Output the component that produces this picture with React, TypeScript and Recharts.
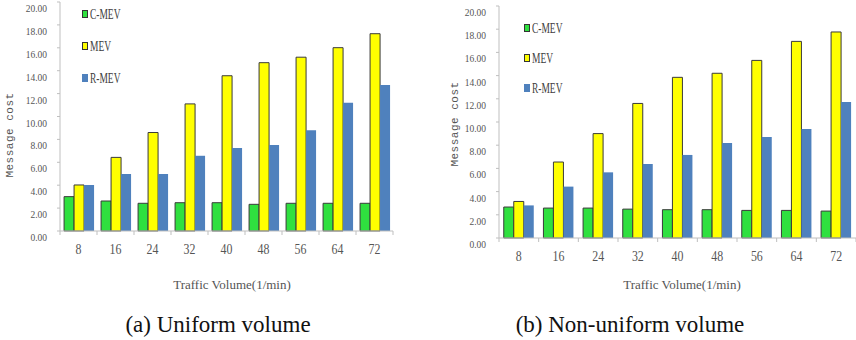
import { BarChart, Bar, XAxis, YAxis, Legend } from 'recharts';

const categories = ['8', '16', '24', '32', '40', '48', '56', '64', '72'];

const uniformCMEV = [3.0, 2.62, 2.42, 2.47, 2.47, 2.33, 2.42, 2.42, 2.42];
const uniformMEV = [4.02, 6.43, 8.6, 11.1, 13.56, 14.7, 15.18, 16.01, 17.23];
const uniformRMEV = [4.02, 4.98, 4.98, 6.57, 7.25, 7.51, 8.79, 11.2, 12.75];

const nonUniformCMEV = [2.67, 2.58, 2.58, 2.49, 2.44, 2.44, 2.38, 2.38, 2.32];
const nonUniformMEV = [3.15, 6.55, 9.0, 11.6, 13.85, 14.2, 15.31, 16.95, 17.76];
const nonUniformRMEV = [2.81, 4.43, 5.66, 6.38, 7.16, 8.19, 8.71, 9.4, 11.72];

const yTicks = [0, 2, 4, 6, 8, 10, 12, 14, 16, 18, 20];

const series = [
  { key: 'cmev', name: 'C-MEV', color: '#2fe03f', stroke: '#3a3a3a' },
  { key: 'mev', name: 'MEV', color: '#ffff00', stroke: '#3a3a3a' },
  { key: 'rmev', name: 'R-MEV', color: '#4f81bd', stroke: 'none' },
];

const buildRows = (c: number[], m: number[], r: number[]) =>
  categories.map((name, i) => ({ name, cmev: c[i], mev: m[i], rmev: r[i] }));

const uniformRows = buildRows(uniformCMEV, uniformMEV, uniformRMEV);
const nonUniformRows = buildRows(nonUniformCMEV, nonUniformMEV, nonUniformRMEV);

const AXIS = '#bfbfbf';
const TEXT = '#555555';
const SERIF = '"Liberation Serif", "Times New Roman", "DejaVu Serif", serif';
const MONO = '"Liberation Mono", "DejaVu Sans Mono", monospace';
const X_TICK_SIZE = 4;
const X_TICK_MARGIN = 4;

function XTick(props: any) {
  const { x, y, payload, index, visibleTicksCount, width } = props;
  const half = typeof payload.offset === 'number' && payload.offset > 0
    ? payload.offset
    : width / categories.length / 2;
  const axisY = y - X_TICK_SIZE - X_TICK_MARGIN;
  return (
    <g>
      <line x1={x - half} x2={x - half} y1={axisY} y2={axisY + X_TICK_SIZE} stroke={AXIS} />
      {index === visibleTicksCount - 1 && (
        <line x1={x + half} x2={x + half} y1={axisY} y2={axisY + X_TICK_SIZE} stroke={AXIS} />
      )}
      <text
        x={0}
        y={0}
        transform={`translate(${x},${y + 10}) scale(0.85,1)`}
        textAnchor="middle"
        dominantBaseline="central"
        style={{ fontFamily: SERIF, fontSize: 14 }}
        fill={TEXT}
      >
        {payload.value}
      </text>
    </g>
  );
}

function YTick(props: any) {
  const { x, y, payload } = props;
  return (
    <text
      x={x}
      y={y + 7}
      textAnchor="end"
      dominantBaseline="central"
      style={{ fontFamily: SERIF, fontSize: 9.5 }}
      fill={TEXT}
    >
      {Number(payload.value).toFixed(2)}
    </text>
  );
}

function LegendBox({ first, pitch }: { first: number; pitch: number }) {
  return (
    <div style={{ position: 'relative', width: 50, height: 1 }}>
      {series.map((s, i) => (
        <div
          key={s.key}
          style={{
            position: 'absolute',
            left: 0,
            top: first + i * pitch - 7,
            height: 14,
            display: 'flex',
            alignItems: 'center',
            whiteSpace: 'nowrap',
          }}
        >
          <span
            style={{
              display: 'inline-block',
              width: 6,
              height: 8,
              background: s.color,
              border: s.stroke === 'none' ? 'none' : '1px solid #333',
              boxSizing: 'border-box',
              marginRight: 2,
            }}
          />
          <span
            style={{
              display: 'inline-block',
              fontFamily: SERIF,
              fontSize: 15,
              lineHeight: '14px',
              color: '#404040',
              transform: 'scaleX(0.63)',
              transformOrigin: 'left center',
            }}
          >
            {s.name}
          </span>
        </div>
      ))}
    </div>
  );
}

type PanelProps = {
  rows: any[];
  left: number;
  width: number;
  height: number;
  margin: { top: number; right: number; left: number; bottom: number };
  xAxisHeight: number;
  gap: string;
  yTitle: [number, number];
  xTitle: [number, number];
  legendPos: [number, number];
  legendFirst: number;
  legendPitch: number;
};

function Panel(p: PanelProps) {
  return (
    <div style={{ position: 'absolute', left: p.left, top: 0 }}>
      <BarChart
        width={p.width}
        height={p.height}
        data={p.rows}
        margin={p.margin}
        barCategoryGap={p.gap}
        barGap={0}
      >
        <XAxis
          dataKey="name"
          height={p.xAxisHeight}
          axisLine={{ stroke: AXIS }}
          tickLine={false}
          tickSize={X_TICK_SIZE}
          tickMargin={X_TICK_MARGIN}
          interval={0}
          tick={<XTick />}
          label={() => (
            <text
              x={p.xTitle[0]}
              y={p.xTitle[1]}
              textAnchor="middle"
              dominantBaseline="central"
              style={{ fontFamily: SERIF, fontSize: 13 }}
              fill={TEXT}
            >
              Traffic Volume(1/min)
            </text>
          )}
        />
        <YAxis
          width={50}
          domain={[0, 20]}
          ticks={yTicks}
          interval={0}
          axisLine={{ stroke: AXIS }}
          tickLine={{ stroke: AXIS }}
          tickSize={3}
          tickMargin={10}
          tick={<YTick />}
          label={() => (
            <text
              x={p.yTitle[0]}
              y={p.yTitle[1]}
              transform={`rotate(-90 ${p.yTitle[0]} ${p.yTitle[1]})`}
              textAnchor="middle"
              dominantBaseline="central"
              style={{ fontFamily: MONO, fontSize: 11, letterSpacing: 0.5 }}
              fill={TEXT}
            >
              Message cost
            </text>
          )}
        />
        <Legend
          layout="horizontal"
          align="center"
          verticalAlign="middle"
          wrapperStyle={{ left: p.legendPos[0], top: p.legendPos[1], width: 60 }}
          content={() => <LegendBox first={p.legendFirst} pitch={p.legendPitch} />}
        />
        {series.map((s) => (
          <Bar
            key={s.key}
            dataKey={s.key}
            name={s.name}
            fill={s.color}
            stroke={s.stroke}
            strokeWidth={1}
            isAnimationActive={false}
          />
        ))}
      </BarChart>
    </div>
  );
}

const captionStyle: React.CSSProperties = {
  position: 'absolute',
  top: 313,
  width: 400,
  textAlign: 'center',
  fontFamily: SERIF,
  fontSize: 23,
  lineHeight: '23px',
  color: '#111',
};

export default function App() {
  return (
    <div
      style={{
        position: 'absolute',
        left: 0,
        top: 0,
        width: 856,
        height: 340,
        background: '#fff',
        overflow: 'hidden',
      }}
    >
      <Panel
        rows={uniformRows}
        left={0}
        width={400}
        height={295}
        margin={{ top: 2, right: 7, left: 10, bottom: 0 }}
        xAxisHeight={64}
        gap="11%"
        yTitle={[10, 135]}
        xTitle={[232, 284]}
        legendPos={[82, 0]}
        legendFirst={14}
        legendPitch={32.2}
      />
      <Panel
        rows={nonUniformRows}
        left={430}
        width={426}
        height={300}
        margin={{ top: 6, right: 0, left: 19, bottom: 0 }}
        xAxisHeight={62}
        gap="12%"
        yTitle={[25, 124]}
        xTitle={[252, 284]}
        legendPos={[94, 0]}
        legendFirst={28.3}
        legendPitch={30}
      />
      <div style={{ ...captionStyle, left: 18 }}>(a) Uniform volume</div>
      <div style={{ ...captionStyle, left: 430 }}>(b) Non-uniform volume</div>
    </div>
  );
}
